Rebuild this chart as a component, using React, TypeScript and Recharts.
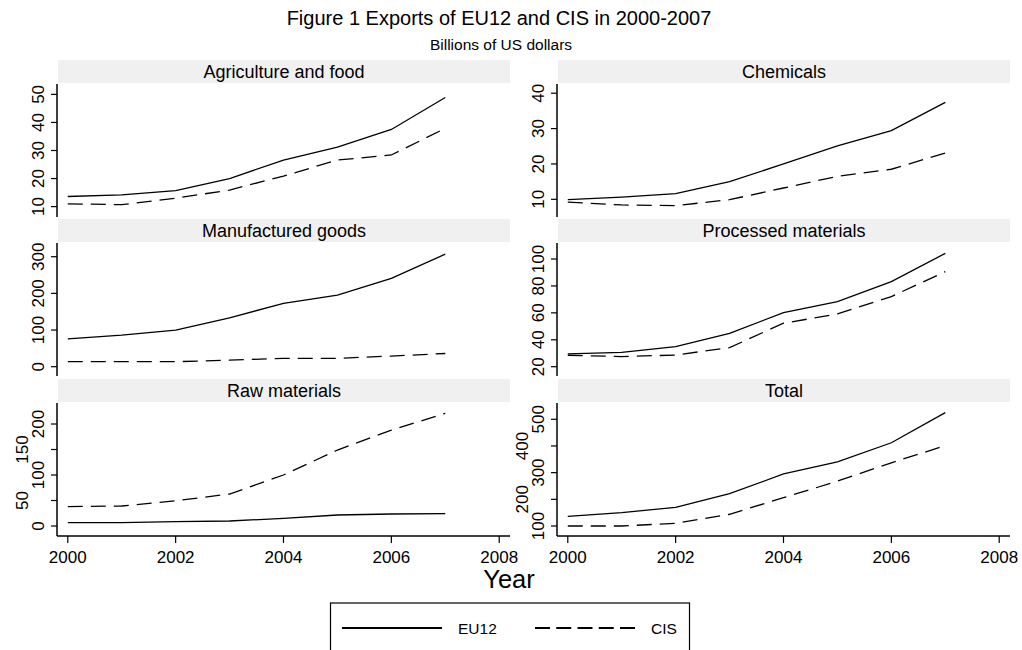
import { LineChart, Line, XAxis, YAxis } from "recharts";

const FONT = '"Liberation Sans", Arial, Helvetica, sans-serif';

const years = [2000, 2001, 2002, 2003, 2004, 2005, 2006, 2007];
const yearTicks = [2000, 2002, 2004, 2006, 2008];

// Billions of US dollars, EU12 vs CIS
const agriEU = [13.6, 14.2, 15.7, 20.0, 26.6, 31.2, 37.5, 48.9];
const agriCIS = [11.0, 10.7, 13.0, 15.9, 20.9, 26.6, 28.4, 37.9];
const chemEU = [9.9, 10.6, 11.6, 15.0, 20.0, 25.1, 29.4, 37.4];
const chemCIS = [9.2, 8.4, 8.2, 9.9, 13.2, 16.5, 18.5, 23.1];
const manufEU = [76, 86, 100, 133, 173, 195, 241, 307];
const manufCIS = [13.6, 13.6, 13.6, 18, 22.7, 22.7, 29, 36];
const procEU = [29.5, 30.7, 34.9, 44.8, 60.2, 68.4, 83.2, 104.2];
const procCIS = [28.5, 27.5, 28.7, 34.2, 52.3, 59.2, 72.1, 90.6];
const rawEU = [6.5, 6.5, 8.5, 9.8, 15, 21.6, 23.5, 24.2];
const rawCIS = [38, 39.2, 49.6, 62.7, 100, 149, 188, 221];
const totalEU = [136, 150, 170, 221, 295, 340, 412, 525];
const totalCIS = [100, 100, 110, 144, 206, 268, 337, 401];

const agriTicks = [10, 20, 30, 40, 50];
const chemTicks = [10, 20, 30, 40];
const manufTicks = [0, 100, 200, 300];
const procTicks = [20, 40, 60, 80, 100];
const rawTicks = [0, 50, 100, 150, 200];
const totalTicks = [100, 200, 300, 400, 500];

const STRIP_TOP = [60, 219, 379];
const PLOT_TOP = [84, 243, 403];
const PLOT_H = 133;
const PLOT_RIGHT = 510;
const RIGHT_PAD = 20;
const AXIS_W = 57;

interface PanelProps {
  eu: number[];
  cis: number[];
  ticks: number[];
  domain: [number, number];
  row: number;
  col: number;
  stagger?: boolean;
}

function Panel({ eu, cis, ticks, domain, row, col, stagger }: PanelProps) {
  const data = years.map((year, i) => ({ year, eu: eu[i], cis: cis[i] }));
  const bottom = row === 2;
  const pad = 10;
  const height = pad + PLOT_H + (bottom ? 40 : pad);

  const yTick = (props: any) => {
    const { y, payload, index } = props;
    const lx = stagger && index % 2 === 1 ? 22 : 38;
    return (
      <text
        transform={`translate(${lx},${y}) rotate(-90)`}
        textAnchor="middle"
        dominantBaseline="central"
        fontSize={17}
        fontFamily={FONT}
        fill="#000"
      >
        {payload.value}
      </text>
    );
  };

  const xTick = (props: any) => {
    const { x, payload } = props;
    return (
      <text x={x} y={pad + PLOT_H + 27} textAnchor="middle" fontSize={17} fontFamily={FONT} fill="#000">
        {payload.value}
      </text>
    );
  };

  return (
    <div style={{ position: "absolute", left: col === 0 ? 0 : 500, top: PLOT_TOP[row] - pad }}>
      <LineChart
        width={PLOT_RIGHT + RIGHT_PAD}
        height={height}
        data={data}
        margin={{ top: pad, right: RIGHT_PAD, left: 0, bottom: bottom ? 0 : pad }}
      >
        <XAxis
          dataKey="year"
          type="number"
          domain={[1999.8, 2008.2]}
          ticks={yearTicks}
          allowDataOverflow
          hide={!bottom}
          height={40}
          tick={xTick}
          tickSize={7}
          axisLine={{ stroke: "#000", strokeWidth: 1.5 }}
          tickLine={{ stroke: "#000", strokeWidth: 1.2 }}
        />
        <YAxis
          type="number"
          domain={domain}
          ticks={ticks}
          allowDataOverflow
          width={AXIS_W}
          tick={yTick}
          tickSize={6}
          axisLine={{ stroke: "#000", strokeWidth: 1.5 }}
          tickLine={{ stroke: "#000", strokeWidth: 1.2 }}
        />
        <Line
          type="linear"
          dataKey="eu"
          stroke="#000"
          strokeWidth={1.3}
          dot={false}
          isAnimationActive={false}
        />
        <Line
          type="linear"
          dataKey="cis"
          stroke="#000"
          strokeWidth={1.3}
          strokeDasharray="15 8"
          dot={false}
          isAnimationActive={false}
        />
      </LineChart>
    </div>
  );
}

function Strip({ title, row, col }: { title: string; row: number; col: number }) {
  const x = col === 0 ? 58 : 558;
  const y = STRIP_TOP[row];
  return (
    <g>
      <rect x={x} y={y} width={452} height={23} fill="#f0f0f0" />
      <text x={x + 226} y={y + 18} textAnchor="middle" fontSize={18} fontFamily={FONT} fill="#000">
        {title}
      </text>
    </g>
  );
}

export default function App() {
  return (
    <div style={{ position: "absolute", left: 0, top: 0, width: 1022, height: 650, background: "#fff", overflow: "hidden" }}>
      <svg width={1022} height={650} style={{ position: "absolute", left: 0, top: 0 }}>
        <text x={499} y={25} textAnchor="middle" fontSize={20} fontFamily={FONT} fill="#000">
          Figure 1 Exports of EU12 and CIS in 2000-2007
        </text>
        <text x={501} y={50} textAnchor="middle" fontSize={15.5} fontFamily={FONT} fill="#000">
          Billions of US dollars
        </text>
        <Strip title="Agriculture and food" row={0} col={0} />
        <Strip title="Chemicals" row={0} col={1} />
        <Strip title="Manufactured goods" row={1} col={0} />
        <Strip title="Processed materials" row={1} col={1} />
        <Strip title="Raw materials" row={2} col={0} />
        <Strip title="Total" row={2} col={1} />
        <text x={509} y={588} textAnchor="middle" fontSize={25.5} fontFamily={FONT} fill="#000">
          Year
        </text>
        {/* legend */}
        <rect x={330.5} y={603} width={359} height={60} fill="#fff" stroke="#000" strokeWidth={1.2} />
        <line x1={342} y1={628} x2={442} y2={628} stroke="#000" strokeWidth={2} />
        <text x={458} y={633.5} fontSize={15.5} fontFamily={FONT} fill="#000">EU12</text>
        <line x1={535} y1={628} x2={635} y2={628} stroke="#000" strokeWidth={2} strokeDasharray="15 6.25" />
        <text x={651} y={633.5} fontSize={15.5} fontFamily={FONT} fill="#000">CIS</text>
      </svg>
      <Panel eu={agriEU} cis={agriCIS} ticks={agriTicks} domain={[6.3, 53.7]} row={0} col={0} />
      <Panel eu={chemEU} cis={chemCIS} ticks={chemTicks} domain={[5, 42.6]} row={0} col={1} />
      <Panel eu={manufEU} cis={manufCIS} ticks={manufTicks} domain={[-25.4, 337.4]} row={1} col={0} />
      <Panel eu={procEU} cis={procCIS} ticks={procTicks} domain={[13.1, 111.9]} row={1} col={1} />
      <Panel eu={rawEU} cis={rawCIS} ticks={rawTicks} domain={[-19.6, 241.2]} row={2} col={0} stagger />
      <Panel eu={totalEU} cis={totalCIS} ticks={totalTicks} domain={[62.5, 561]} row={2} col={1} stagger />
    </div>
  );
}
